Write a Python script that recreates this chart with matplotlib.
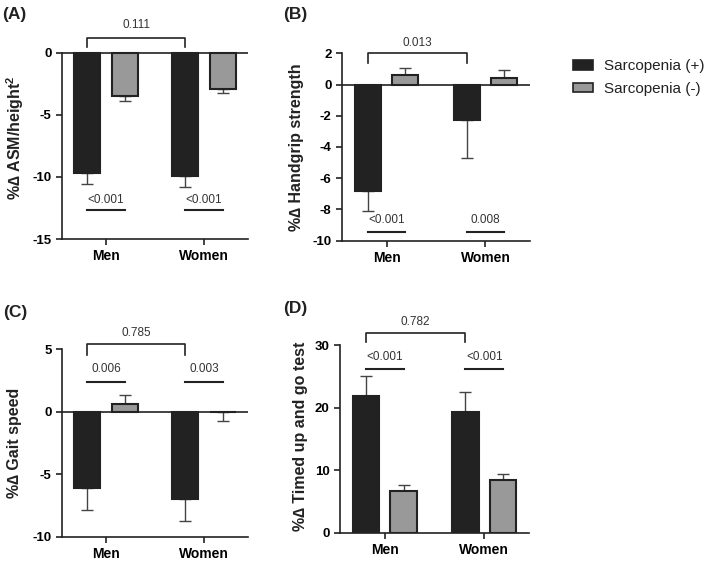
import numpy as np
import matplotlib
matplotlib.use('Agg')
import matplotlib.pyplot as plt
from matplotlib.patches import Patch

plt.rcParams['font.family'] = ['Liberation Sans', 'DejaVu Sans']
plt.rcParams['axes.unicode_minus'] = False
plt.rcParams['mathtext.fontset'] = 'custom'
plt.rcParams['mathtext.rm'] = 'Liberation Sans'
plt.rcParams['mathtext.bf'] = 'Liberation Sans:bold'

# 数据
groups = ['Men', 'Women']
series_names = ['Sarcopenia (+)', 'Sarcopenia (-)']

asm_pos = [-9.7, -9.9]
asm_pos_err = [0.9, 0.9]
asm_neg = [-3.5, -2.9]
asm_neg_err = [0.35, 0.3]

grip_pos = [-6.8, -2.3]
grip_pos_err = [1.3, 2.4]
grip_neg = [0.6, 0.4]
grip_neg_err = [0.45, 0.55]

gait_pos = [-6.1, -7.0]
gait_pos_err = [1.8, 1.75]
gait_neg = [0.6, -0.05]
gait_neg_err = [0.75, 0.7]

tug_pos = [21.9, 19.3]
tug_pos_err = [3.1, 3.2]
tug_neg = [6.6, 8.5]
tug_neg_err = [0.95, 0.9]

p_between = ['0.111', '0.013', '0.785', '0.782']
p_within = [['<0.001', '<0.001'], ['<0.001', '0.008'], ['0.006', '0.003'], ['<0.001', '<0.001']]

ylabels = ['%\u2206 ASM/height$^{\\mathbf{2}}$', '%\u2206 Handgrip strength',
           '%\u2206 Gait speed', '%\u2206 Timed up and go test']
letters = ['(A)', '(B)', '(C)', '(D)']

W, H = 709, 562
fig = plt.figure(figsize=(W / 100, H / 100), dpi=100)

dark = '#222222'
gray = '#999999'
txt = '#333333'
bw = 0.265
off = 0.19


def px_axes(x0, x1, ybot, ytop):
    return fig.add_axes([x0 / W, 1 - ybot / H, (x1 - x0) / W, (ybot - ytop) / H])


def panel(ax, pos, pos_err, neg, neg_err, ylim, yticks, bounds, pb, pw,
          brk, txt_between, within_txt, within_line):
    x = np.arange(len(groups))
    ax.bar(x - off, pos, bw, color=dark, edgecolor=dark, linewidth=1.5, zorder=3)
    ax.bar(x + off, neg, bw, color=gray, edgecolor=dark, linewidth=1.5, zorder=3)
    for xs, vals, errs in [(x - off, pos, pos_err), (x + off, neg, neg_err)]:
        for xi, v, e in zip(xs, vals, errs):
            lo, hi = (e, 0) if v < 0 else (0, e)
            ax.errorbar(xi, v, yerr=[[lo], [hi]], fmt='none', ecolor='#444444',
                        elinewidth=1.0, capsize=4.5, capthick=1.0, zorder=2)
    ax.set_xlim(-0.45, 1.45)
    ax.set_ylim(*ylim)
    ax.set_yticks(yticks)
    ax.set_xticks(x)
    ax.set_xticklabels(groups)
    for s in ['top', 'right']:
        ax.spines[s].set_visible(False)
    ax.spines['left'].set_bounds(*bounds)
    ax.spines['left'].set_linewidth(1.2)
    ax.spines['bottom'].set_linewidth(1.2)
    ax.spines['left'].set_color(dark)
    ax.spines['bottom'].set_color(dark)
    if bounds[0] < 0:
        ax.axhline(0, color=dark, linewidth=1.2, zorder=1)
    ax.tick_params(axis='both', direction='out', length=4, width=1.2, color=dark)
    for lab in ax.get_xticklabels():
        lab.set_fontweight('bold')
        lab.set_fontsize(10)
    for lab in ax.get_yticklabels():
        lab.set_fontweight('bold')
        lab.set_fontsize(9.5)
    # between groups bracket
    yb, yd = brk
    ax.plot([-off, -off, 1 - off, 1 - off], [yd, yb, yb, yd], color=dark,
            linewidth=1.2, clip_on=False)
    ax.text(0.5 - off, txt_between, pb, ha='center', va='center', fontsize=8.5, color=txt)
    # within group lines
    for i in range(len(groups)):
        ax.plot([i - off, i + off], [within_line, within_line], color=dark,
                linewidth=1.5, clip_on=False)
        ax.text(i, within_txt, pw[i], ha='center', va='center', fontsize=8.5, color=txt)


axA = px_axes(62, 248, 239, 20)
panel(axA, asm_pos, asm_pos_err, asm_neg, asm_neg_err, (-15, 2.66), [-15, -10, -5, 0],
      (-15, 0), p_between[0], p_within[0], (1.23, 0.48), 2.26, -11.85, -12.7)

axB = px_axes(342, 530, 240.7, 20)
panel(axB, grip_pos, grip_pos_err, grip_neg, grip_neg_err, (-10, 4.13),
      [-10, -8, -6, -4, -2, 0, 2], (-10, 2), p_between[1], p_within[1],
      (2.0, 1.4), 2.68, -8.7, -9.45)

axC = px_axes(62, 248, 536.7, 300)
panel(axC, gait_pos, gait_pos_err, gait_neg, gait_neg_err, (-10, 8.95), [-10, -5, 0, 5],
      (-10, 5), p_between[2], p_within[2], (5.4, 4.55), 6.3, 3.4, 2.4)

axD = px_axes(340, 529, 532.7, 300)
panel(axD, tug_pos, tug_pos_err, tug_neg, tug_neg_err, (0, 37.2), [0, 10, 20, 30],
      (0, 30), p_between[3], p_within[3], (32.0, 30.5), 33.7, 28.1, 26.2)

# y labels and panel letters
label_pos = [(15, 138), (297, 147), (15, 443), (300, 436)]
letter_pos = [(2, 14), (283, 15), (3, 313), (283, 308)]
for (lx, ly), lab in zip(label_pos, ylabels):
    fig.text(lx / W, 1 - ly / H, lab, rotation=90, ha='center', va='center',
             fontsize=11.5, fontweight='bold', color=dark)
for (lx, ly), lab in zip(letter_pos, letters):
    fig.text(lx / W, 1 - ly / H, lab, ha='left', va='center',
             fontsize=12.5, fontweight='bold', color=dark)

handles = [Patch(facecolor=dark, edgecolor=dark, linewidth=1.2),
           Patch(facecolor=gray, edgecolor=dark, linewidth=1.2)]
fig.legend(handles, series_names, loc='upper left', bbox_to_anchor=(567 / W, 1 - 53 / H),
           frameon=False, fontsize=11, handlelength=1.31, handleheight=0.59,
           handletextpad=0.72, labelspacing=0.57, borderaxespad=0, labelcolor=dark)

fig.savefig('out.png', dpi=100)
